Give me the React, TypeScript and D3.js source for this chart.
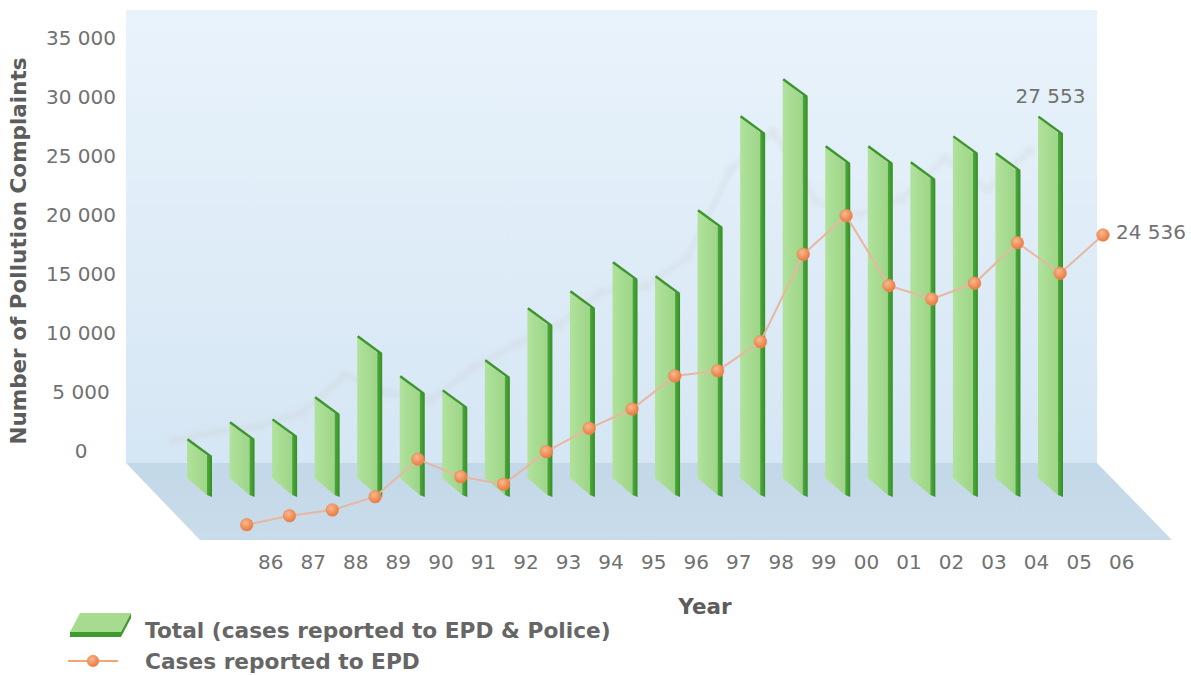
import React from 'react';
import * as d3 from 'd3';

const years = ['86','87','88','89','90','91','92','93','94','95','96','97','98','99','00','01','02','03','04','05','06'];
const totalCases = [2970, 4270, 4490, 6170, 10820, 7770, 6700, 8990, 12950, 14250, 16460, 15390, 20420, 27580, 30400, 25290, 25290, 24070, 26050, 24760, 27553];
const epdCases = [2470, 3150, 3590, 4600, 7450, 6120, 5550, 8030, 9810, 11280, 13800, 14200, 16410, 23070, 26010, 20680, 19660, 20860, 23950, 21620, 24536];
const yTicks = [0, 5000, 10000, 15000, 20000, 25000, 30000, 35000];
const seriesNames = ['Total (cases reported to EPD & Police)', 'Cases reported to EPD'];

const W = 1191, H = 675;
const FONT = '"DejaVu Sans", Verdana, sans-serif';

export default function App() {
  const fmt = d3.formatLocale({ decimal: '.', thousands: '\u2009', grouping: [3], currency: ['', ''] }).format(',');
  const fmtS = (v: number) => fmt(v).replace('\u2009', ' ');

  // wall / floor geometry
  const wall = { x0: 126, x1: 1097, y0: 10, y1: 463 };
  const depth = { dx: 75, dy: 77 };

  const barX = d3.scalePoint<string>().domain(years).range([187, 1038]);
  const lineX = d3.scalePoint<string>().domain(years).range([246.7, 1103]);
  const labelX = d3.scalePoint<string>().domain(years).range([270.7, 1121.7]);
  const yBar = d3.scaleLinear().domain([0, 35000]).range([478, 478 - 35000 * 0.013127]);
  const yLine = d3.scaleLinear().domain([0, 35000]).range([557.1, 557.1 - 35000 * 0.013127]);
  const yAxis = d3.scaleLinear().domain([0, 35000]).range([451, 38]);

  const bdx = 20, bdy = 17, bw = 5;

  const linePts: [number, number][] = years.map((y, i) => [lineX(y)!, yLine(epdCases[i])]);
  const lineGen = d3.line();
  const linePath = lineGen(linePts) || '';

  const floorPath = d3.path();
  floorPath.moveTo(wall.x0, wall.y1);
  floorPath.lineTo(wall.x1, wall.y1);
  floorPath.lineTo(wall.x1 + depth.dx, wall.y1 + depth.dy);
  floorPath.lineTo(wall.x0 + depth.dx - 1, wall.y1 + depth.dy);
  floorPath.closePath();

  const poly = (pts: [number, number][]) => pts.map(p => p.join(',')).join(' ');

  const lastI = years.length - 1;

  return (
    <div style={{ position: 'absolute', left: 0, top: 0 }}>
      <svg width={W} height={H} style={{ display: 'block', background: '#ffffff' }}>
        <defs>
          <linearGradient id="wallG" x1="0" y1="0" x2="0" y2="1">
            <stop offset="0" stopColor="#e9f3fb" />
            <stop offset="1" stopColor="#d5e6f4" />
          </linearGradient>
          <linearGradient id="floorG" x1="0" y1="0" x2="0" y2="1">
            <stop offset="0" stopColor="#c3d8e8" />
            <stop offset="1" stopColor="#c9dcea" />
          </linearGradient>
          <linearGradient id="sideG" x1="0" y1="0" x2="1" y2="0">
            <stop offset="0" stopColor="#b0e29b" />
            <stop offset="1" stopColor="#9ed588" />
          </linearGradient>
          <linearGradient id="frontG" x1="0" y1="0" x2="1" y2="0">
            <stop offset="0" stopColor="#4ea93b" />
            <stop offset="1" stopColor="#368f26" />
          </linearGradient>
          <radialGradient id="dotG" cx="0.4" cy="0.35" r="0.65">
            <stop offset="0" stopColor="#f9b88e" />
            <stop offset="1" stopColor="#e97a40" />
          </radialGradient>
          <filter id="blur" x="-10%" y="-10%" width="120%" height="120%">
            <feGaussianBlur stdDeviation="2.2" />
          </filter>
        </defs>

        {/* back wall and floor */}
        <rect x={wall.x0} y={wall.y0} width={wall.x1 - wall.x0} height={wall.y1 - wall.y0} fill="url(#wallG)" />
        <path d={floorPath.toString()} fill="url(#floorG)" />

        {/* shadow of the line on the wall */}
        <g transform={`translate(${-depth.dx + 2},${-84})`} filter="url(#blur)" opacity={0.22}>
          <path d={linePath} fill="none" stroke="#c8c8c8" strokeWidth={6} strokeLinejoin="round" />
          {linePts.map((p, i) => (
            <circle key={i} cx={p[0]} cy={p[1]} r={5} fill="#c8c8c8" />
          ))}
        </g>

        {/* y axis labels */}
        {yTicks.map(t => (
          <text key={t} x={81} y={yAxis(t)} textAnchor="middle" dominantBaseline="central"
            fontFamily={FONT} fontSize={20} fill="#717171">{fmtS(t)}</text>
        ))}
        <text transform={`translate(18,251) rotate(-90)`} textAnchor="middle" dominantBaseline="central"
          fontFamily={FONT} fontSize={21.5} fontWeight="bold" fill="#5c5c5c">Number of Pollution Complaints</text>

        {/* columns */}
        {years.map((y, i) => {
          const x0 = barX(y)!;
          const yT = yBar(totalCases[i]);
          const yB = yBar(0);
          return (
            <g key={y}>
              <polygon points={poly([[x0, yT], [x0 + bdx, yT + bdy], [x0 + bdx, yB + bdy], [x0, yB]])} fill="url(#sideG)" />
              <polygon points={poly([[x0 + bdx, yT + bdy - 1], [x0 + bdx + bw, yT + bdy + 1], [x0 + bdx + bw, yB + bdy + 2], [x0 + bdx, yB + bdy]])} fill="url(#frontG)" />
              <line x1={x0 + 0.5} y1={yT + 0.3} x2={x0 + bdx + bw - 0.5} y2={yT + bdy + 1} stroke="#3f952d" strokeWidth={2.4} />
            </g>
          );
        })}

        {/* value label of last column */}
        <text x={barX(years[lastI])! + (bdx + bw) / 2} y={yBar(totalCases[lastI]) - 20} textAnchor="middle" dominantBaseline="central"
          fontFamily={FONT} fontSize={20} fill="#717171">{fmtS(totalCases[lastI])}</text>

        {/* line series */}
        <path d={linePath} fill="none" stroke="#e7b7a0" strokeWidth={2} />
        {linePts.map((p, i) => (
          <circle key={i} cx={p[0]} cy={p[1]} r={6.3} fill="url(#dotG)" stroke="#e98a58" strokeWidth={0.6} />
        ))}
        <text x={linePts[lastI][0] + 13} y={linePts[lastI][1] - 3} textAnchor="start" dominantBaseline="central"
          fontFamily={FONT} fontSize={20} fill="#717171">{fmtS(epdCases[lastI])}</text>

        {/* x axis labels */}
        {years.map(y => (
          <text key={y} x={labelX(y)} y={562} textAnchor="middle" dominantBaseline="central"
            fontFamily={FONT} fontSize={20} fill="#717171">{y}</text>
        ))}
        <text x={705} y={606} textAnchor="middle" dominantBaseline="central"
          fontFamily={FONT} fontSize={21.5} fontWeight="bold" fill="#5c5c5c">Year</text>

        {/* legend */}
        <g>
          <polygon points={poly([[80, 613], [131, 613], [121, 632], [70, 632]])} fill="#a7dc90" />
          <polygon points={poly([[70, 632], [121, 632], [121, 637], [70, 637]])} fill="#3f9a2e" />
          <polygon points={poly([[121, 632], [131, 613], [131, 618], [121, 637]])} fill="#3f9a2e" />
          <text x={145} y={630} dominantBaseline="central" fontFamily={FONT} fontSize={21.7} fontWeight="bold" fill="#666666">{seriesNames[0]}</text>

          <line x1={68} y1={661} x2={118} y2={661} stroke="#f1a878" strokeWidth={2.2} />
          <circle cx={93} cy={661} r={5.8} fill="url(#dotG)" stroke="#e98a58" strokeWidth={0.6} />
          <text x={145} y={661} dominantBaseline="central" fontFamily={FONT} fontSize={21.7} fontWeight="bold" fill="#666666">{seriesNames[1]}</text>
        </g>
      </svg>
    </div>
  );
}
